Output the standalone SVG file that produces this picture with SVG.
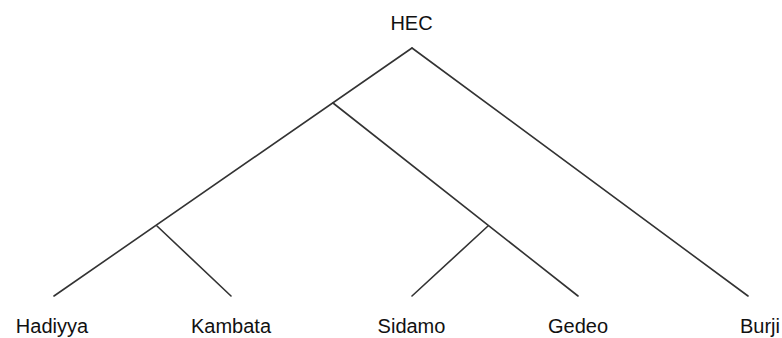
<svg xmlns="http://www.w3.org/2000/svg" width="782" height="338" viewBox="0 0 782 338">
<style>
.e{stroke:#333;stroke-width:1.6;fill:none;stroke-linecap:round}
text{font-family:"Liberation Sans",Arial,sans-serif;font-size:20px;fill:#111;text-anchor:middle}
</style>
<rect width="782" height="338" fill="#fff"/>
<g id="connectors">
<line class="e" x1="412" y1="48" x2="54" y2="296"/>
<line class="e" x1="412" y1="48" x2="748" y2="296"/>
<line class="e" x1="333" y1="103" x2="578" y2="296"/>
<line class="e" x1="157" y1="226" x2="231" y2="296"/>
<line class="e" x1="488" y1="226" x2="412" y2="296"/>
</g>
<g id="HEC"><text x="411.5" y="30">HEC</text></g>
<g id="Hadiyya"><text x="52" y="333">Hadiyya</text></g>
<g id="Kambata"><text x="231" y="333">Kambata</text></g>
<g id="Sidamo"><text x="411.5" y="333">Sidamo</text></g>
<g id="Gedeo"><text x="578" y="333">Gedeo</text></g>
<g id="Burji"><text x="760" y="333">Burji</text></g>
</svg>
